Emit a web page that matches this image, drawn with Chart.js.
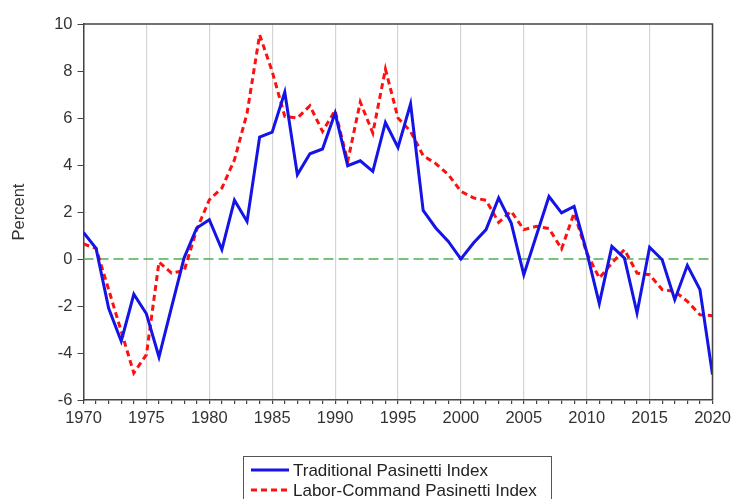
<!DOCTYPE html>
<html>
<head>
<meta charset="utf-8">
<script src="https://cdn.jsdelivr.net/npm/chart.js@4/dist/chart.umd.min.js"></script>
<style>
  html, body { margin: 0; padding: 0; background: #fff; }
  #wrap { width: 731px; height: 499px; }
</style>
</head>
<body>
<div id="wrap"><canvas id="chart" width="731" height="499"></canvas></div>
<script>
// Years on the x axis
const years = [1970, 1971, 1972, 1973, 1974, 1975, 1976, 1977, 1978, 1979,
               1980, 1981, 1982, 1983, 1984, 1985, 1986, 1987, 1988, 1989,
               1990, 1991, 1992, 1993, 1994, 1995, 1996, 1997, 1998, 1999,
               2000, 2001, 2002, 2003, 2004, 2005, 2006, 2007, 2008, 2009,
               2010, 2011, 2012, 2013, 2014, 2015, 2016, 2017, 2018, 2019, 2020];

// Traditional Pasinetti Index (percent)
const traditional = [1.13, 0.45, -2.1, -3.5, -1.5, -2.33, -4.17, -2.05, 0.05, 1.32,
                     1.67, 0.4, 2.5, 1.6, 5.19, 5.4, 7.1, 3.59, 4.48, 4.68,
                     6.21, 3.97, 4.18, 3.73, 5.81, 4.75, 6.6, 2.07, 1.32, 0.75,
                     0.0, 0.68, 1.25, 2.6, 1.53, -0.67, 1.0, 2.66, 1.96, 2.24,
                     0.3, -1.9, 0.54, 0.04, -2.3, 0.5, -0.03, -1.73, -0.27, -1.3, -4.92];

// Labor-Command Pasinetti Index (percent)
const laborCommand = [0.64, 0.45, -1.3, -3.08, -4.85, -4.07, -0.13, -0.6, -0.5, 1.25,
                      2.52, 3.02, 4.22, 6.2, 9.54, 7.98, 6.07, 6.0, 6.52, 5.43,
                      6.32, 4.15, 6.68, 5.36, 8.08, 6.0, 5.43, 4.4, 4.06, 3.59,
                      2.88, 2.6, 2.5, 1.56, 2.03, 1.25, 1.39, 1.3, 0.43, 1.96,
                      0.26, -0.81, -0.17, 0.4, -0.6, -0.67, -1.3, -1.38, -1.8, -2.37, -2.41];

const seriesNames = ['Traditional Pasinetti Index', 'Labor-Command Pasinetti Index'];
const yTicks = [-6, -4, -2, 0, 2, 4, 6, 8, 10];

const FONT = '"Liberation Sans", Arial, sans-serif';
const TEXT = '#333';
const AXIS = '#444';

function toPoints(vals) {
    return years.map((yr, i) => ({ x: yr, y: vals[i] }));
}

// green dashed zero line + top/right frame + boxed legend
const extras = {
    id: 'extras',
    beforeDatasetsDraw(chart) {
        const ctx = chart.ctx;
        const a = chart.chartArea;
        const y0 = chart.scales.y.getPixelForValue(0);
        ctx.save();
        ctx.strokeStyle = '#4caf50';
        ctx.lineWidth = 1.5;
        ctx.setLineDash([10, 5]);
        ctx.beginPath();
        ctx.moveTo(a.left, y0);
        ctx.lineTo(a.right, y0);
        ctx.stroke();
        ctx.restore();
    },
    afterDraw(chart) {
        const ctx = chart.ctx;
        const a = chart.chartArea;
        ctx.save();
        ctx.strokeStyle = AXIS;
        ctx.lineWidth = 1.5;
        ctx.beginPath();
        ctx.moveTo(a.left, a.top);
        ctx.lineTo(a.right, a.top);
        ctx.lineTo(a.right, a.bottom);
        ctx.stroke();

        const bx = 243, by = 456, bw = 308, bh = 60;
        ctx.lineWidth = 1;
        ctx.strokeStyle = '#555';
        ctx.strokeRect(bx + 0.5, by + 0.5, bw, bh);
        ctx.font = '17px ' + FONT;
        ctx.fillStyle = '#222';
        ctx.textBaseline = 'middle';
        chart.data.datasets.forEach((ds, i) => {
            const ly = 470 + i * 20;
            ctx.strokeStyle = ds.borderColor;
            ctx.lineWidth = 3;
            ctx.setLineDash(ds.borderDash || []);
            ctx.beginPath();
            ctx.moveTo(251, ly);
            ctx.lineTo(289, ly);
            ctx.stroke();
            ctx.fillText(ds.label, 293, ly + 1);
        });
        ctx.restore();
    }
};

const ctx = document.getElementById('chart').getContext('2d');
new Chart(ctx, {
    type: 'line',
    data: {
        datasets: [{
            label: seriesNames[0],
            data: toPoints(traditional),
            borderColor: '#1414e6',
            borderWidth: 3,
            pointRadius: 0,
            tension: 0,
            fill: false
        }, {
            label: seriesNames[1],
            data: toPoints(laborCommand),
            borderColor: '#ff1010',
            borderWidth: 3,
            borderDash: [6, 4],
            pointRadius: 0,
            tension: 0,
            fill: false
        }]
    },
    options: {
        responsive: false,
        animation: false,
        events: [],
        layout: { padding: { top: 24, right: 18.5, left: 0, bottom: 0 } },
        plugins: {
            legend: { display: false },
            tooltip: { enabled: false }
        },
        scales: {
            x: {
                type: 'linear',
                min: years[0],
                max: years[years.length - 1],
                afterFit: s => { s.height = 99; s.paddingLeft = 0; s.paddingRight = 0; },
                afterBuildTicks: s => { s.ticks = years.map(v => ({ value: v })); },
                border: { color: AXIS, width: 1.5 },
                grid: {
                    color: c => (c.tick && c.tick.value % 5 === 0) ? '#d4d4d4' : 'rgba(0,0,0,0)',
                    lineWidth: 1.2,
                    tickColor: AXIS,
                    tickLength: 4
                },
                ticks: {
                    autoSkip: false,
                    maxRotation: 0,
                    padding: 5,
                    color: TEXT,
                    font: { family: FONT, size: 16.5 },
                    callback: v => (v % 5 === 0 ? String(v) : '')
                }
            },
            y: {
                min: -6,
                max: 10,
                afterFit: s => { s.width = 83.5; s.paddingTop = 0; s.paddingBottom = 0; },
                afterBuildTicks: s => { s.ticks = yTicks.map(v => ({ value: v })); },
                border: { color: AXIS, width: 1.5 },
                grid: {
                    drawOnChartArea: false,
                    tickColor: AXIS,
                    tickLength: 6
                },
                ticks: {
                    padding: 5,
                    color: TEXT,
                    font: { family: FONT, size: 16.5 }
                },
                title: {
                    display: true,
                    text: 'Percent',
                    color: TEXT,
                    font: { family: FONT, size: 16.5 },
                    padding: { top: 10, bottom: 0 }
                }
            }
        }
    },
    plugins: [extras]
});
</script>
</body>
</html>
